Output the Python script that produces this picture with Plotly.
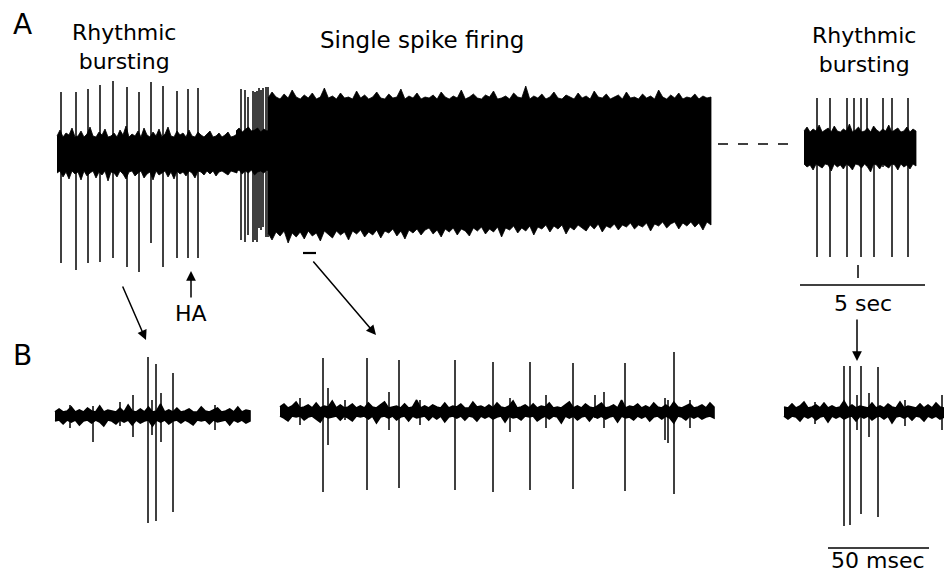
import numpy as np
import plotly.graph_objects as go

# ---------------- DATA (pixel units of the figure) ----------------
# Panel A, left rhythmic bursting segment (noise envelope: offsets above / below centre)
a1_span = [57, 237]
a1_center = 154
a1_up = [18, 24, 17, 21, 19, 26, 17, 18, 23, 17, 20, 27, 18, 17, 22, 19, 25, 17, 18, 21,
         17, 24, 19, 28, 17, 20, 18, 23, 17, 26, 19, 17, 22, 18, 25, 17, 20, 27, 18, 17,
         23, 19, 21, 17, 24, 18, 17, 22, 19, 17, 20, 23, 17, 18, 21, 17, 19, 22, 17, 18, 20]
a1_dn = [19, 17, 23, 18, 25, 17, 20, 18, 26, 17, 22, 19, 17, 24, 18, 21, 17, 27, 18, 19,
         23, 17, 20, 25, 18, 17, 22, 19, 17, 24, 20, 18, 26, 17, 21, 19, 17, 23, 18, 25,
         17, 20, 18, 22, 17, 19, 24, 17, 18, 21, 17, 20, 17, 22, 18, 17, 19, 21, 17, 18, 19]
a1_spike_x = [61, 76, 88, 100, 113, 127, 139, 151, 163, 177, 188, 198]
a1_spike_top = [92, 92, 89, 85, 81, 87, 92, 82, 86, 91, 89, 88]
a1_spike_bot = [263, 270, 263, 262, 258, 267, 272, 243, 267, 258, 258, 258]

# transition cluster after HA
a2_span = [236, 270]
a2_center = 151
a2_up = [20, 23, 19, 22, 24, 20, 21, 23, 19, 22, 20, 21]
a2_dn = [21, 19, 23, 20, 22, 19, 24, 21, 20, 22, 19, 21]
a2_spike_x = [241, 245, 248, 253, 255, 257, 259, 261, 263, 266, 268]
a2_spike_top = [89, 90, 97, 91, 92, 91, 88, 90, 88, 87, 87]
a2_spike_bot = [240, 242, 235, 242, 240, 242, 228, 230, 227, 237, 237]

# Single spike firing (dense band: absolute top and bottom edges)
a3_span = [268, 711]
a3_top = [98, 92, 97, 99, 94, 98, 90, 97, 99, 95,
          98, 93, 99, 97, 88, 98, 96, 99, 93, 98,
          97, 99, 91, 98, 95, 99, 97, 92, 98, 99,
          94, 98, 97, 89, 99, 96, 98, 93, 99, 97,
          98, 95, 99, 92, 97, 99, 96, 98, 90, 99,
          97, 94, 98, 99, 95, 97, 91, 99, 98, 96,
          99, 93, 97, 98, 86, 99, 96, 98, 94, 99,
          97, 92, 98, 99, 95, 97, 99, 93, 98, 96,
          99, 91, 97, 98, 94, 99, 97, 95, 99, 92,
          98, 97, 99, 94, 98, 96, 99, 90, 97, 99,
          95, 98, 93, 99, 97, 98, 94, 99, 96, 98, 97]
a3_bot = [233, 240, 232, 236, 231, 243, 233, 237, 232, 239,
          231, 236, 233, 241, 231, 234, 238, 231, 235, 232,
          240, 231, 234, 230, 237, 232, 235, 230, 238, 231,
          233, 229, 236, 231, 239, 230, 233, 229, 235, 230,
          228, 234, 230, 237, 229, 232, 228, 235, 229, 231,
          236, 228, 231, 227, 234, 229, 232, 227, 237, 228,
          230, 226, 233, 228, 231, 226, 235, 227, 229, 225,
          232, 226, 229, 225, 234, 227, 230, 225, 228, 231,
          225, 229, 224, 232, 226, 228, 224, 230, 225, 227,
          223, 229, 225, 227, 223, 231, 224, 226, 222, 228,
          224, 222, 229, 223, 226, 222, 227, 223, 230, 222, 225]
a3_mark = [303, 316, 253]

# Panel A, right rhythmic bursting segment
a4_span = [804, 916]
a4_center = 148
a4_up = [17, 21, 16, 19, 17, 23, 16, 18, 20, 16, 22, 17, 16, 19, 17, 24, 16, 18, 21, 16,
         17, 20, 16, 22, 18, 16, 19, 17, 23, 16, 18, 20, 16, 17, 21, 16, 19, 17]
a4_dn = [16, 19, 17, 22, 16, 18, 20, 16, 17, 23, 16, 19, 17, 21, 16, 18, 22, 16, 17, 20,
         16, 19, 24, 16, 17, 21, 16, 18, 20, 16, 17, 22, 16, 19, 17, 21, 16, 18]
a4_spike_x = [817, 830, 847, 854, 861, 867, 874, 883, 892, 908]
a4_spike_top = [98, 98, 98, 98, 98, 98, 128, 98, 98, 98]
a4_spike_bot = [257, 257, 257, 166, 257, 166, 257, 167, 257, 257]

gap_dash = [718, 795, 144]

# Panel B traces
b1_span = [55, 250]
b1_center = 416
b1_up = [4, 7, 4, 5, 9, 4, 6, 4, 8, 5, 4, 10, 4, 6, 5, 4, 8, 4, 11, 5, 4, 7, 4, 9, 4,
         5, 12, 4, 6, 4, 8, 4, 5, 7, 4, 4, 9, 5, 4, 6, 8, 4, 5, 7, 4, 9, 4, 6, 5]
b1_dn = [5, 4, 8, 4, 6, 4, 9, 5, 4, 7, 4, 6, 10, 4, 5, 8, 4, 6, 4, 9, 4, 7, 5, 4, 10,
         4, 6, 4, 8, 5, 4, 7, 4, 6, 9, 4, 5, 4, 8, 4, 6, 5, 4, 9, 4, 6, 4, 7, 5]
b1_spike_x = [148, 156, 173, 93, 133, 120, 152, 161, 70, 215]
b1_spike_top = [357, 364, 373, 406, 395, 402, 400, 393, 405, 405]
b1_spike_bot = [523, 521, 512, 442, 437, 426, 435, 442, 428, 430]

b2_span = [280, 714]
b2_center = 412
b2_up = [5, 8, 4, 6, 10, 4, 5, 7, 4, 9,
         4, 6, 5, 11, 4, 7, 4, 5, 8, 4,
         6, 4, 9, 5, 4, 7, 10, 4, 5, 6,
         4, 8, 4, 5, 12, 4, 6, 4, 7, 5,
         4, 9, 4, 6, 5, 8, 4, 4, 10, 5,
         6, 4, 7, 4, 9, 5, 4, 6, 11, 4,
         5, 7, 4, 8, 4, 6, 5, 9, 4, 5,
         4, 7, 10, 4, 6, 4, 8, 5, 4, 6,
         9, 4, 5, 7, 4, 12, 4, 6, 5, 8,
         4, 6, 4, 9, 5, 4, 7, 4, 10, 5,
         4, 6, 8, 4, 5, 7, 4, 9, 5]
b2_dn = [4, 6, 9, 4, 5, 4, 8, 5, 4, 7,
         10, 4, 6, 5, 4, 8, 4, 6, 9, 4,
         5, 4, 7, 4, 11, 5, 4, 6, 4, 8,
         5, 4, 9, 4, 6, 5, 4, 8, 4, 7,
         4, 10, 5, 4, 6, 4, 8, 4, 5, 9,
         4, 6, 4, 7, 5, 4, 10, 4, 6, 5,
         8, 4, 5, 4, 9, 6, 4, 7, 4, 5,
         11, 4, 6, 4, 8, 5, 4, 9, 4, 6,
         4, 7, 5, 4, 10, 4, 6, 5, 8, 4,
         6, 4, 9, 5, 4, 7, 4, 6, 11, 4,
         5, 8, 4, 6, 4, 7, 5, 4, 6]
b2_spike_x = [323, 367, 399, 455, 493, 530, 573, 625, 674,
              328, 389, 300, 345, 420, 510, 546, 595, 604, 665, 668, 690]
b2_spike_top = [358, 358, 360, 360, 362, 362, 363, 363, 352,
                388, 392, 398, 400, 400, 398, 395, 395, 392, 398, 400, 400]
b2_spike_bot = [492, 490, 488, 490, 492, 490, 489, 491, 494,
                445, 430, 425, 420, 425, 432, 428, 418, 428, 440, 443, 428]

b3_span = [784, 944]
b3_center = 412
b3_up = [5, 4, 8, 4, 6, 10, 4, 5, 7, 4, 9, 4, 6, 4, 5, 11, 4, 7, 4, 6,
         5, 4, 9, 4, 6, 4, 8, 5, 4, 10, 4, 6, 5, 4, 8, 4, 7, 4, 9, 5, 4]
b3_dn = [4, 7, 4, 5, 9, 4, 6, 4, 8, 5, 4, 10, 4, 6, 4, 7, 5, 4, 9, 4,
         6, 4, 8, 5, 4, 7, 4, 11, 5, 4, 6, 4, 8, 4, 5, 9, 4, 6, 4, 7, 5]
b3_spike_x = [844, 850, 861, 878, 869, 857, 815, 905, 942]
b3_spike_top = [366, 366, 366, 367, 393, 395, 402, 400, 395]
b3_spike_bot = [526, 525, 514, 517, 437, 430, 424, 426, 430]

# labels
panel_labels = ["A", "B"]
burst_label = "Rhythmic<br>bursting"
single_label = "Single spike firing"
scale_a_label = "5 sec"
scale_b_label = "50 msec"
drug_label = "HA"

# ---------------- FIGURE ----------------
fig = go.Figure()
INK = "#000000"


def band(span, center, up, dn):
    n = min(len(up), len(dn))
    xs = list(np.linspace(span[0], span[1], n))
    tops = [center - u for u in up[:n]]
    bots = [center + d for d in dn[:n]]
    return xs, tops, bots


def add_band(xs, tops, bots, w=0.8):
    fig.add_trace(go.Scatter(x=xs + xs[::-1], y=tops + bots[::-1], mode="lines",
                             fill="toself", fillcolor=INK,
                             line=dict(color=INK, width=w), hoverinfo="skip", showlegend=False))


def add_spikes(xs, tops, bots, w=1.5):
    X, Y = [], []
    for x, t, b in zip(xs, tops, bots):
        X += [x, x, None]
        Y += [t, b, None]
    fig.add_trace(go.Scatter(x=X, y=Y, mode="lines", line=dict(color=INK, width=w),
                             hoverinfo="skip", showlegend=False))


add_band(*band(a1_span, a1_center, a1_up, a1_dn))
add_spikes(a1_spike_x, a1_spike_top, a1_spike_bot)
add_band(*band(a2_span, a2_center, a2_up, a2_dn))
add_spikes(a2_spike_x, a2_spike_top, a2_spike_bot)
n3 = min(len(a3_top), len(a3_bot))
add_band(list(np.linspace(a3_span[0], a3_span[1], n3)), a3_top[:n3], a3_bot[:n3])
add_band(*band(a4_span, a4_center, a4_up, a4_dn))
add_spikes(a4_spike_x, a4_spike_top, a4_spike_bot)

add_band(*band(b1_span, b1_center, b1_up, b1_dn), 1.6)
add_spikes(b1_spike_x, b1_spike_top, b1_spike_bot, 1.5)
add_band(*band(b2_span, b2_center, b2_up, b2_dn), 1.6)
add_spikes(b2_spike_x, b2_spike_top, b2_spike_bot, 1.5)
add_band(*band(b3_span, b3_center, b3_up, b3_dn), 1.6)
add_spikes(b3_spike_x, b3_spike_top, b3_spike_bot, 1.5)

# dashed gap line, marker bar, scale bars
fig.add_trace(go.Scatter(x=[gap_dash[0], gap_dash[1]], y=[gap_dash[2], gap_dash[2]], mode="lines",
                         line=dict(color=INK, width=1.6, dash="10px,10px"), hoverinfo="skip", showlegend=False))
fig.add_trace(go.Scatter(x=[a3_mark[0], a3_mark[1]], y=[a3_mark[2], a3_mark[2]], mode="lines",
                         line=dict(color=INK, width=2.2), hoverinfo="skip", showlegend=False))
fig.add_trace(go.Scatter(x=[800, 925, None, 858, 858], y=[285, 285, None, 265, 278], mode="lines",
                         line=dict(color=INK, width=1.5), hoverinfo="skip", showlegend=False))
fig.add_trace(go.Scatter(x=[828, 929], y=[548, 548], mode="lines",
                         line=dict(color=INK, width=1.5), hoverinfo="skip", showlegend=False))

FONT = "DejaVu Sans"
ann = []


def text(x, y, s, size=22, yanchor="middle"):
    ann.append(dict(x=x, y=y, xref="x", yref="y", text=s, showarrow=False,
                    font=dict(family=FONT, size=size, color=INK), xanchor="center", yanchor=yanchor))


def arrow(x0, y0, x1, y1):
    ann.append(dict(x=x1, y=y1, ax=x0, ay=y0, xref="x", yref="y", axref="x", ayref="y", text="",
                    showarrow=True, arrowhead=2, arrowsize=1.3, arrowwidth=1.5, arrowcolor=INK))


text(22, 24, panel_labels[0], 28)
text(22, 355, panel_labels[1], 28)
text(124, 47, burst_label, 22)
text(422, 40, single_label, 23)
text(864, 50, burst_label, 22)
text(191, 313, drug_label, 22)
text(863, 303, scale_a_label, 22)
text(878, 574.5, scale_b_label, 22, yanchor="bottom")

arrow(122, 285, 146, 340)
arrow(312, 260, 376, 335)
arrow(191, 299, 191, 271)
arrow(857, 318, 857, 361)

fig.update_layout(
    width=944, height=575, autosize=False,
    margin=dict(l=0, r=0, t=0, b=0, pad=0),
    paper_bgcolor="white", plot_bgcolor="white",
    xaxis=dict(range=[0, 944], visible=False, fixedrange=True),
    yaxis=dict(range=[575, 0], visible=False, fixedrange=True),
    annotations=ann, showlegend=False,
)
fig.write_html("out.html")
